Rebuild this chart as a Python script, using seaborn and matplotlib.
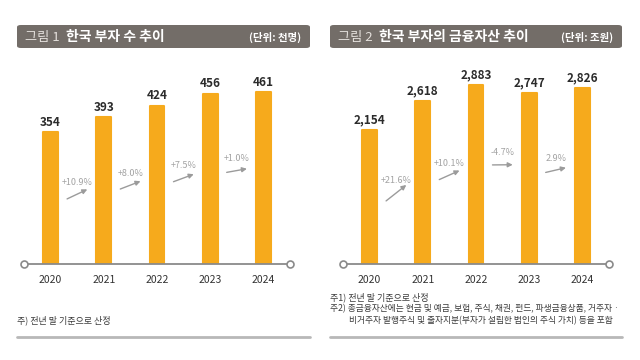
import matplotlib
matplotlib.use("Agg")
import matplotlib.pyplot as plt
import seaborn as sns
from matplotlib.patches import FancyBboxPatch
from matplotlib.lines import Line2D

# data
years = ["2020", "2021", "2022", "2023", "2024"]
rich_count = [354, 393, 424, 456, 461]
rich_growth = ["+10.9%", "+8.0%", "+7.5%", "+1.0%"]
fin_assets = [2154, 2618, 2883, 2747, 2826]
asset_growth = ["+21.6%", "+10.1%", "-4.7%", "2.9%"]

sns.set_style("white")
plt.rcParams["font.family"] = ["Noto Sans CJK KR", "DejaVu Sans"]

BAR = "#F6AA1C"
HEAD = "#736D68"
GREY = "#A3A3A3"

fig = plt.figure(figsize=(6.4, 3.6), dpi=100)


def panel(left, values, growth, ymax):
    ax = fig.add_axes([left, 96 / 360, 266 / 640, 204 / 360])
    sns.barplot(x=years, y=values, color=BAR, width=0.28, ax=ax,
                saturation=1, edgecolor=BAR, linewidth=1.5)
    for p in ax.patches:
        p.set_joinstyle("round")
    ax.set_xlim(-0.5, 4.5)
    ax.set_ylim(0, ymax)
    ax.set_yticks([])
    for s in ["top", "left", "right"]:
        ax.spines[s].set_visible(False)
    ax.spines["bottom"].set_color("#8a8a8a")
    ax.spines["bottom"].set_linewidth(1.3)
    ax.plot([0, 1], [0, 0], transform=ax.transAxes, ls="none", marker="o",
            ms=5, mfc="white", mec="#8a8a8a", mew=1.2, clip_on=False, zorder=5)
    ax.tick_params(axis="x", length=0, pad=8, labelsize=7.5, colors="#333333")
    ax.set_xlabel("")

    for i, v in enumerate(values):
        ax.annotate(f"{v:,}", (i, v), xytext=(0, 2.5), textcoords="offset points",
                    ha="center", va="bottom", fontsize=8.5, color="#2b2b2b",
                    fontweight="bold")

    # growth labels with small arrows between bars
    upp = ymax / 204.0  # data units per pixel
    for i, g in enumerate(growth):
        x0 = i + 0.5
        ylab = 0.62 * values[i]
        ax.text(x0, ylab, g, ha="center", va="center", fontsize=6.5, color=GREY)
        rise = 0.6 * float(g.rstrip("%")) + 3
        ymid = ylab - 12 * upp
        ax.annotate("", xy=(x0 + 0.19, ymid + rise / 2 * upp),
                    xytext=(x0 - 0.19, ymid - rise / 2 * upp),
                    arrowprops=dict(arrowstyle="-|>", color="#9b9b9b", lw=1,
                                    mutation_scale=7, shrinkA=0, shrinkB=0))
    return ax


panel(24 / 640, rich_count, rich_growth, 547)
panel(343 / 640, fin_assets, asset_growth, 3280)


def header(x0, x1, num, title, unit):
    fig.patches.append(FancyBboxPatch((x0 / 640, 1 - 48 / 360), (x1 - x0) / 640, 23 / 360,
                                      boxstyle="round,pad=0,rounding_size=0.006",
                                      transform=fig.transFigure, fc=HEAD, ec="none"))
    fig.text((x0 + 8) / 640, 1 - 37 / 360, num, color="#E4E0DC", fontsize=9.5,
             va="center", ha="left")
    fig.text((x0 + 49) / 640, 1 - 37 / 360, title, color="white", fontsize=10,
             fontweight="bold", va="center", ha="left")
    fig.text((x1 - 9) / 640, 1 - 37 / 360, unit, color="white", fontsize=7.5,
             fontweight="bold", va="center", ha="right")


header(17, 310, "그림 1", "한국 부자 수 추이", "(단위: 천명)")
header(330, 622, "그림 2", "한국 부자의 금융자산 추이", "(단위: 조원)")

# notes
note_kw = dict(fontsize=6.5, color="#3a3a3a", va="center", ha="left")
fig.text(17 / 640, 1 - 320 / 360, "주) 전년 말 기준으로 산정", **note_kw)
fig.text(330 / 640, 1 - 297 / 360, "주1) 전년 말 기준으로 산정", **note_kw)
fig.text(330 / 640, 1 - 309 / 360,
         "주2) 총금융자산에는 현금 및 예금, 보험, 주식, 채권, 펀드, 파생금융상품, 거주자 ·",
         **dict(note_kw, fontsize=6.3))
fig.text(349 / 640, 1 - 321 / 360,
         "비거주자 발행주식 및 출자지분(부자가 설립한 법인의 주식 가치) 등을 포함",
         **dict(note_kw, fontsize=6.3))

for x0, x1 in [(17, 310), (330, 622)]:
    fig.lines.append(Line2D([x0 / 640, x1 / 640], [1 - 337 / 360] * 2,
                            transform=fig.transFigure, color="#B8B8B8", lw=2))

fig.savefig("out.png", dpi=100)
